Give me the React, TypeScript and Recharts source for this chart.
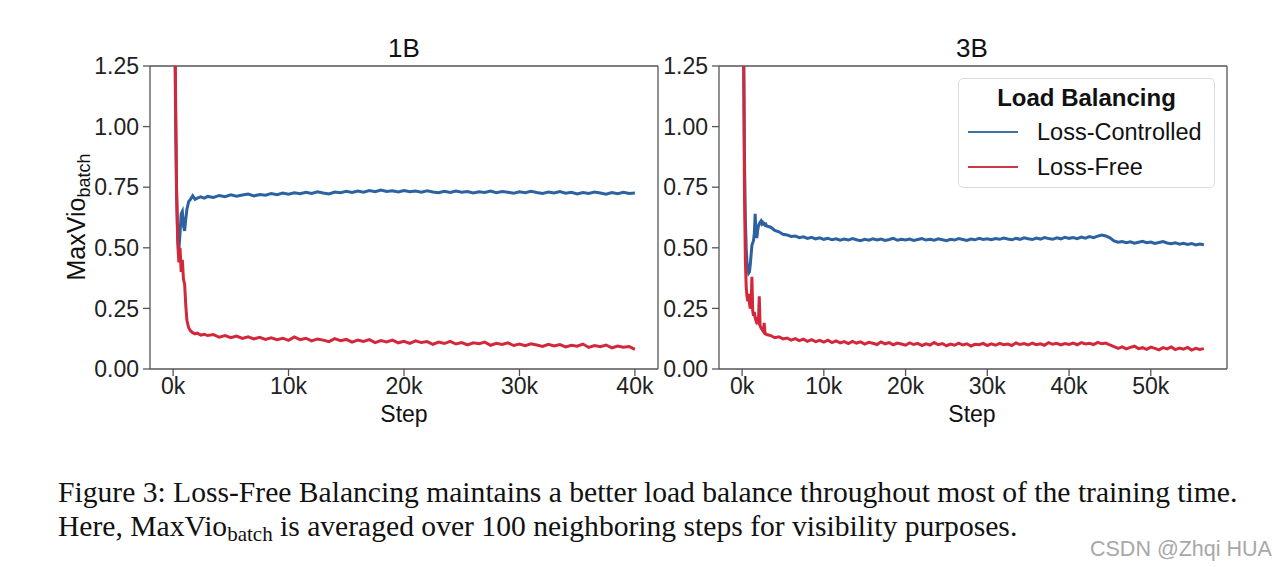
import { LineChart, Line, XAxis, YAxis, ReferenceLine } from "recharts";

// steps are in thousands (k)
const STEPS_1B = [
  0, 0.1, 0.2, 0.3, 0.4, 0.5, 0.6, 0.7, 0.8, 0.9, 1.0, 1.1, 1.2, 1.35, 1.5, 1.7, 1.9, 2.1, 2.4, 2.7, 3.0,
  3.5, 4, 4.5, 5, 5.5, 6, 6.5, 7, 7.5, 8, 8.5, 9, 9.5, 10,
  10.5, 11, 11.5, 12, 12.5, 13, 13.5, 14, 14.5, 15, 15.5, 16, 16.5, 17, 17.5, 18, 18.5, 19, 19.5, 20,
  20.5, 21, 21.5, 22, 22.5, 23, 23.5, 24, 24.5, 25, 25.5, 26, 26.5, 27, 27.5, 28, 28.5, 29, 29.5, 30,
  30.5, 31, 31.5, 32, 32.5, 33, 33.5, 34, 34.5, 35, 35.5, 36, 36.5, 37, 37.5, 38, 38.5, 39, 39.5, 40,
];

const LOSS_CONTROLLED_1B = [
  3.2, 1.9, 1.1, 0.72, 0.55, 0.49, 0.56, 0.64, 0.65, 0.59, 0.57, 0.62, 0.66, 0.69, 0.7, 0.715, 0.7, 0.705, 0.71, 0.705, 0.712,
  0.708, 0.716, 0.711, 0.719, 0.713, 0.718, 0.722, 0.714, 0.72, 0.717, 0.724, 0.719, 0.726, 0.721,
  0.727, 0.723, 0.729, 0.724, 0.731, 0.726, 0.722, 0.73, 0.727, 0.733, 0.728, 0.734, 0.729, 0.736, 0.731, 0.738, 0.732, 0.735, 0.73, 0.736,
  0.731, 0.734, 0.729, 0.735, 0.73, 0.727, 0.733, 0.728, 0.734, 0.729, 0.732, 0.726, 0.731, 0.728, 0.734, 0.727, 0.732, 0.729, 0.725, 0.731,
  0.727, 0.733, 0.728, 0.724, 0.73, 0.726, 0.732, 0.725, 0.729, 0.722, 0.728, 0.724, 0.73, 0.726, 0.721, 0.728, 0.723, 0.729, 0.724, 0.726,
];

const LOSS_FREE_1B = [
  3.2, 2.0, 1.2, 0.75, 0.52, 0.44, 0.5, 0.4, 0.45, 0.37, 0.35, 0.26, 0.2, 0.17, 0.158, 0.15, 0.145, 0.148, 0.14, 0.143, 0.138,
  0.142, 0.131, 0.138, 0.129, 0.136, 0.126, 0.133, 0.124, 0.131, 0.122, 0.129, 0.121, 0.127, 0.118,
  0.132, 0.121, 0.127, 0.116, 0.124, 0.119, 0.113, 0.125, 0.117, 0.122, 0.111, 0.119, 0.114, 0.121, 0.109, 0.117, 0.112, 0.119, 0.108, 0.114,
  0.106, 0.116, 0.109, 0.113, 0.102, 0.111, 0.105, 0.114, 0.103, 0.109, 0.099, 0.108, 0.104, 0.111, 0.098, 0.106, 0.101, 0.108, 0.097, 0.103,
  0.096, 0.104, 0.099, 0.093, 0.102, 0.095, 0.101, 0.091, 0.098, 0.094, 0.103, 0.089, 0.097, 0.092, 0.099, 0.087, 0.095, 0.09, 0.093, 0.081,
];

const STEPS_3B = [
  0, 0.1, 0.2, 0.3, 0.4, 0.5, 0.6, 0.7, 0.8, 0.9, 1.0, 1.1, 1.2, 1.3, 1.4, 1.5, 1.6, 1.7, 1.8, 1.9, 2.0,
  2.1, 2.2, 2.3, 2.4, 2.5, 2.6, 2.7, 2.8, 2.9, 3.0,
  3.5, 4, 4.5, 5, 5.5, 6, 6.5, 7, 7.5, 8, 8.5, 9, 9.5, 10,
  10.5, 11, 11.5, 12, 12.5, 13, 13.5, 14, 14.5, 15, 15.5, 16, 16.5, 17, 17.5, 18, 18.5, 19, 19.5, 20,
  20.5, 21, 21.5, 22, 22.5, 23, 23.5, 24, 24.5, 25, 25.5, 26, 26.5, 27, 27.5, 28, 28.5, 29, 29.5, 30,
  30.5, 31, 31.5, 32, 32.5, 33, 33.5, 34, 34.5, 35, 35.5, 36, 36.5, 37, 37.5, 38, 38.5, 39, 39.5, 40,
  40.5, 41, 41.5, 42, 42.5, 43, 43.5, 44, 44.5, 45,
  45.5, 46, 46.5, 47, 47.5, 48, 48.5, 49, 49.5, 50, 50.5, 51, 51.5, 52, 52.5, 53, 53.5, 54, 54.5, 55, 55.5, 56, 56.5,
];

const LOSS_CONTROLLED_3B = [
  3.2, 2.2, 1.3, 0.85, 0.62, 0.5, 0.44, 0.41, 0.395, 0.4, 0.43, 0.47, 0.51, 0.52, 0.53, 0.56, 0.64, 0.56, 0.54, 0.57, 0.59,
  0.6, 0.605, 0.61, 0.6, 0.605, 0.598, 0.6, 0.594, 0.597, 0.59,
  0.585, 0.572, 0.566, 0.556, 0.553, 0.547, 0.549, 0.542, 0.545, 0.539, 0.543, 0.537, 0.541, 0.535,
  0.539, 0.533, 0.537, 0.531, 0.536, 0.532, 0.538, 0.533, 0.529, 0.535, 0.531, 0.537, 0.532, 0.536, 0.53, 0.534, 0.539, 0.531, 0.535, 0.532,
  0.536, 0.53, 0.534, 0.538, 0.532, 0.535, 0.531, 0.537, 0.533, 0.529, 0.535, 0.532, 0.538, 0.534, 0.53, 0.536, 0.533, 0.539, 0.534, 0.537,
  0.533, 0.538, 0.535, 0.54, 0.536, 0.533, 0.539, 0.535, 0.541, 0.537, 0.534, 0.54, 0.536, 0.542, 0.538, 0.535, 0.541, 0.537, 0.543, 0.539,
  0.542, 0.538, 0.544, 0.54, 0.546, 0.542, 0.548, 0.553, 0.549, 0.541,
  0.528, 0.523, 0.526, 0.521, 0.525, 0.519, 0.523, 0.527, 0.521, 0.524, 0.518, 0.522, 0.526, 0.52, 0.517, 0.521, 0.515, 0.519, 0.514, 0.518, 0.512, 0.516, 0.513,
];

const LOSS_FREE_3B = [
  3.2, 2.0, 1.2, 0.7, 0.45, 0.34, 0.3, 0.28, 0.31, 0.27, 0.25, 0.26, 0.38, 0.24, 0.22, 0.235, 0.21, 0.2, 0.215, 0.195, 0.19,
  0.3, 0.18, 0.17, 0.165, 0.16, 0.155, 0.19, 0.15, 0.145, 0.142,
  0.138, 0.129, 0.133, 0.124, 0.128, 0.119, 0.125, 0.117, 0.123, 0.114, 0.121, 0.113, 0.118, 0.111,
  0.119, 0.109, 0.116, 0.108, 0.113, 0.105, 0.114, 0.107, 0.112, 0.103, 0.11, 0.106, 0.101, 0.112, 0.104, 0.109, 0.1, 0.107, 0.103, 0.098,
  0.108, 0.101, 0.106, 0.097, 0.104, 0.099, 0.109, 0.1, 0.105, 0.096, 0.103, 0.098, 0.107, 0.099, 0.104, 0.095, 0.102, 0.1, 0.106, 0.097,
  0.104, 0.098, 0.106, 0.1, 0.103, 0.097, 0.108, 0.101, 0.105, 0.099, 0.107, 0.1, 0.104, 0.098, 0.109, 0.102, 0.106, 0.099, 0.105, 0.101,
  0.107, 0.1, 0.109, 0.103, 0.106, 0.101, 0.11, 0.104, 0.107, 0.099,
  0.092, 0.085, 0.091, 0.083, 0.089, 0.094, 0.084, 0.088, 0.081, 0.09, 0.085, 0.079, 0.088, 0.083, 0.091, 0.08, 0.086, 0.082, 0.089, 0.078, 0.085, 0.081, 0.084,
];

const X_TICKS_1B = [0, 10, 20, 30, 40];
const X_TICKS_3B = [0, 10, 20, 30, 40, 50];
const Y_TICKS = [0, 0.25, 0.5, 0.75, 1.0, 1.25];

const BLUE = "#2c62a0";
const RED = "#d3283a";
const AXIS = "#555";
const FONT = "'Liberation Sans', Arial, sans-serif";
const SERIF = "'Liberation Serif', 'Times New Roman', serif";

const build = (steps: number[], lc: number[], lf: number[]) =>
  steps.map((s, i) => ({ step: s, lc: lc[i], lf: lf[i] }));

const data1B = build(STEPS_1B, LOSS_CONTROLLED_1B, LOSS_FREE_1B);
const data3B = build(STEPS_3B, LOSS_CONTROLLED_3B, LOSS_FREE_3B);

interface PanelProps {
  data: any[];
  xDomain: [number, number];
  xTicks: number[];
  left: number;
}

const Panel = ({ data, xDomain, xTicks, left }: PanelProps) => (
  <div style={{ position: "absolute", left, top: 0 }}>
    <LineChart
      width={680}
      height={450}
      data={data}
      margin={{ top: 66, right: 22, left: 60, bottom: 36 }}
    >
      <XAxis
        dataKey="step"
        type="number"
        domain={xDomain}
        ticks={xTicks}
        interval={0}
        allowDataOverflow
        tickFormatter={(v) => `${v}k`}
        tick={{ fontSize: 23, fill: "#222", fontFamily: FONT }}
        tickSize={7}
        tickMargin={2}
        height={45}
        stroke={AXIS}
        strokeWidth={1.3}
      />
      <YAxis
        type="number"
        domain={[0, 1.25]}
        ticks={Y_TICKS}
        interval={0}
        allowDataOverflow
        tickFormatter={(v) => v.toFixed(2)}
        tick={{ fontSize: 23, fill: "#222", fontFamily: FONT }}
        tickSize={7}
        tickMargin={4}
        width={90}
        stroke={AXIS}
        strokeWidth={1.3}
      />
      <ReferenceLine y={1.25} stroke={AXIS} strokeWidth={1.3} />
      <ReferenceLine x={xDomain[1]} stroke={AXIS} strokeWidth={1.3} />
      <Line
        type="linear"
        dataKey="lc"
        stroke={BLUE}
        strokeWidth={3}
        dot={false}
        isAnimationActive={false}
      />
      <Line
        type="linear"
        dataKey="lf"
        stroke={RED}
        strokeWidth={3}
        dot={false}
        isAnimationActive={false}
      />
    </LineChart>
  </div>
);

export default function App() {
  return (
    <div
      style={{
        position: "absolute",
        left: 0,
        top: 0,
        width: 1280,
        height: 567,
        background: "#fff",
        overflow: "hidden",
      }}
    >
      <Panel data={data1B} xDomain={[-2, 42]} xTicks={X_TICKS_1B} left={0} />
      <Panel data={data3B} xDomain={[-2.825, 59.325]} xTicks={X_TICKS_3B} left={569} />

      <svg
        width={1280}
        height={567}
        style={{ position: "absolute", left: 0, top: 0, pointerEvents: "none" }}
      >
        <text x={404} y={57} textAnchor="middle" fontSize={26} fontFamily={FONT} fill="#111">
          1B
        </text>
        <text x={972} y={57} textAnchor="middle" fontSize={26} fontFamily={FONT} fill="#111">
          3B
        </text>
        <text x={404} y={422} textAnchor="middle" fontSize={23} fontFamily={FONT} fill="#111">
          Step
        </text>
        <text x={972} y={422} textAnchor="middle" fontSize={23} fontFamily={FONT} fill="#111">
          Step
        </text>
        <g transform="translate(85, 217) rotate(-90)">
          <text x={0} y={0} textAnchor="middle" fontSize={25} fontFamily={FONT} fill="#111">
            MaxVio
            <tspan fontSize={18} dy={5}>
              batch
            </tspan>
          </text>
        </g>

        <text x={58} y={502} fontSize={29.6} fontFamily={SERIF} fill="#111">
          Figure 3: Loss-Free Balancing maintains a better load balance throughout most of the training time.
        </text>
        <text x={58} y={536} fontSize={29.6} fontFamily={SERIF} fill="#111">
          Here, MaxVio
          <tspan fontSize={21} dy={5}>
            batch
          </tspan>
          <tspan dy={-5}> is averaged over 100 neighboring steps for visibility purposes.</tspan>
        </text>
        <text x={1090} y={556} fontSize={21.5} fontFamily={FONT} fill="#a8a8a8">
          CSDN @Zhqi HUA
        </text>
      </svg>

      <div
        style={{
          position: "absolute",
          left: 958,
          top: 78,
          width: 255,
          height: 108,
          border: "1px solid #dcdcdc",
          borderRadius: 5,
          background: "#fff",
          fontFamily: FONT,
          color: "#111",
        }}
      >
        <div
          style={{
            position: "absolute",
            left: 0,
            right: 0,
            top: 5,
            textAlign: "center",
            fontWeight: "bold",
            fontSize: 24,
          }}
        >
          Load Balancing
        </div>
        {[
          { name: "Loss-Controlled", color: "#3d72a4", top: 40 },
          { name: "Loss-Free", color: "#c8384a", top: 75 },
        ].map((e) => (
          <div key={e.name} style={{ position: "absolute", left: 9, top: e.top, height: 28 }}>
            <div
              style={{
                position: "absolute",
                left: 0,
                top: 12,
                width: 50,
                height: 2,
                background: e.color,
              }}
            />
            <div style={{ position: "absolute", left: 69, top: 0, fontSize: 23.5, whiteSpace: "nowrap" }}>
              {e.name}
            </div>
          </div>
        ))}
      </div>
    </div>
  );
}
